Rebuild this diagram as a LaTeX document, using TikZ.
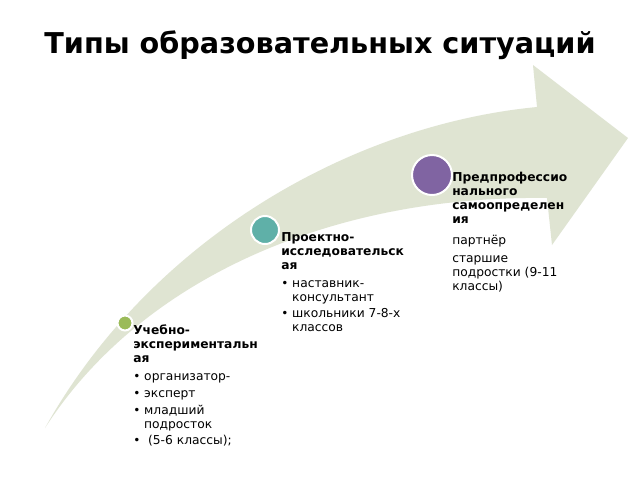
\documentclass[tikz,border=0pt]{standalone}
\usepackage{fontspec}
\setmainfont{DejaVu Sans}
\definecolor{band}{HTML}{DFE4D2}
\definecolor{olivec}{HTML}{9BBB59}
\definecolor{tealc}{HTML}{5FB0A8}
\definecolor{purplec}{HTML}{8064A2}
\begin{document}
\begin{tikzpicture}[x=0.75pt,y=-0.75pt,
  lbl/.style={anchor=north west,align=left,inner sep=0pt,font=\fontsize{9.2pt}{10.5pt}\selectfont},
  dot/.style={circle,draw=white,line width=1.5pt,inner sep=0pt}]
\useasboundingbox (0,0) rectangle (640,480);
\fill[fill=white] (0,0) rectangle (640,480);
\node[font=\bfseries\fontsize{21.5pt}{24pt}\selectfont] (title) at (320,45) {Типы образовательных ситуаций};
\fill[fill=band] (45,428) .. controls (150,240) and (350,125) .. (537,107) -- (533,65) -- (628,138) -- (552,245) -- (547,198) .. controls (330,195) and (140,280) .. (45,428) -- cycle;
\node[dot,fill=olivec,minimum size=15pt*0.75] (c1) at (125,323) {};
\node[dot,fill=tealc,minimum size=28pt*0.75] (c2) at (265,230) {};
\node[dot,fill=purplec,minimum size=40pt*0.75] (c3) at (432,175) {};
\node[lbl] (t3) at (452,172) {\textbf{Предпрофессио}\\\textbf{нального}\\\textbf{самоопределен}\\\textbf{ия}\\[5pt]партнёр\\[3pt]старшие\\подростки (9-11\\классы)};
\node[lbl] (t2) at (281,232) {\textbf{Проектно-}\\\textbf{исследовательск}\\\textbf{ая}\\[3pt]{\small•} наставник-\\\hphantom{\small• }консультант\\[2pt]{\small•} школьники 7-8-х\\\hphantom{\small• }классов};
\node[lbl] (t1) at (133,325) {\textbf{Учебно-}\\\textbf{экспериментальн}\\\textbf{ая}\\[3pt]{\small•} организатор-\\[2pt]{\small•} эксперт\\[2pt]{\small•} младший\\\hphantom{\small• }подросток\\[2pt]{\small•}\ \ (5-6 классы);};
\end{tikzpicture}
\end{document}
